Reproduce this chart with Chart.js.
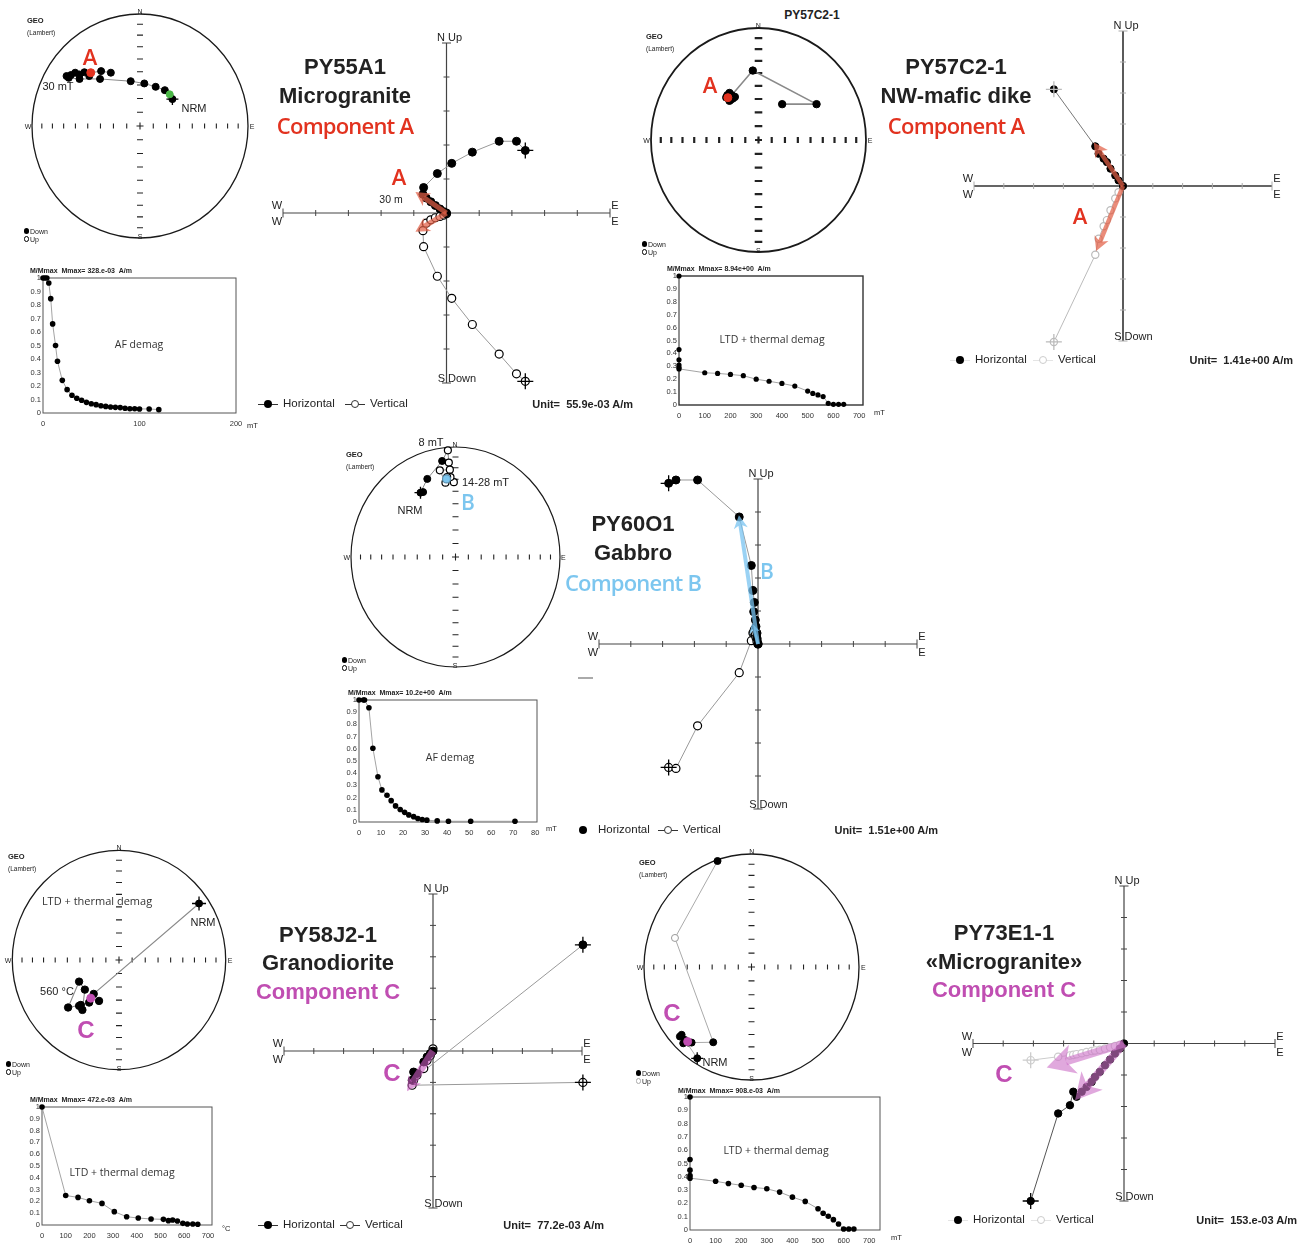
<!DOCTYPE html>
<html><head><meta charset="utf-8"><title>Paleomagnetic demagnetization diagrams</title>
<script src="https://cdn.jsdelivr.net/npm/chart.js@4.4.1/dist/chart.umd.min.js"></script>
<style>
html,body{margin:0;padding:0;background:#fff;}
#root{position:relative;width:1303px;height:1245px;overflow:hidden;font-family:"Liberation Sans",Arial,sans-serif;color:#222;}
#root div{position:absolute;white-space:nowrap;line-height:1;box-sizing:border-box;}
#root canvas{position:absolute;}
</style></head><body><div id="root"></div>
<script>
// ================= DATA =================
// Stereonet (equal-area, Lambert) positions [east, north] on the unit circle
const s1Nrm = [[0.30,0.24]];
const s1Green = [[0.275,0.283]];
const s1Mean = [[-0.456,0.476]];
const s1Down = [[0.23,0.32],[0.145,0.35],[0.04,0.38],[-0.086,0.40],[-0.27,0.476],[-0.36,0.49],[-0.37,0.42],[-0.47,0.446],[-0.515,0.48],[-0.56,0.46],[-0.56,0.42],[-0.60,0.476],[-0.64,0.455],[-0.66,0.43],[-0.68,0.446]];
const s1Path = [[0.30,0.24],[0.275,0.283],[0.23,0.32],[0.145,0.35],[0.04,0.38],[-0.086,0.40],[-0.37,0.42],[-0.56,0.42],[-0.66,0.43]];
const s1Path2 = [[-0.27,0.476],[-0.36,0.49],[-0.456,0.476],[-0.515,0.48],[-0.60,0.476]];

const s2Down = [[0.22,0.32],[0.54,0.32],[-0.053,0.62],[-0.27,0.42],[-0.30,0.38],[-0.24,0.37],[-0.27,0.35],[-0.22,0.385],[-0.25,0.40],[-0.29,0.40],[-0.26,0.36]];
const s2Path = [[0.22,0.32],[0.54,0.32],[-0.053,0.62],[-0.25,0.40]];
const s2Mean = [[-0.285,0.378]];

const s3Nrm = [[-0.335,0.585]];
const s3Down = [[-0.31,0.59],[-0.27,0.71],[-0.128,0.873]];
const s3Up = [[-0.073,0.97],[-0.064,0.858],[-0.054,0.794],[-0.15,0.788],[-0.096,0.676],[-0.016,0.68],[-0.048,0.727],[-0.08,0.727]];
const s3Path = [[-0.335,0.585],[-0.27,0.71],[-0.128,0.873],[-0.073,0.97],[-0.064,0.858],[-0.054,0.794],[-0.15,0.788],[-0.096,0.676],[-0.048,0.727],[-0.016,0.68]];
const s3Mean = [[-0.086,0.71]];

const s4Nrm = [[0.75,0.515]];
const s4Down = [[-0.374,-0.197],[-0.32,-0.27],[-0.477,-0.433],[-0.358,-0.41],[-0.343,-0.455],[-0.374,-0.418],[-0.28,-0.388],[-0.237,-0.309],[-0.187,-0.373]];
const s4Path = [[0.75,0.515],[-0.237,-0.309],[-0.28,-0.388],[-0.358,-0.41],[-0.477,-0.433],[-0.374,-0.197],[-0.32,-0.27],[-0.343,-0.455]];
const s4Mean = [[-0.265,-0.348]];

const s5Nrm = [[-0.505,-0.808]];
const s5Down = [[-0.316,0.938],[-0.356,-0.666],[-0.65,-0.6],[-0.62,-0.645],[-0.588,-0.669],[-0.557,-0.669],[-0.666,-0.615],[-0.635,-0.675]];
const s5Up = [[-0.712,0.257]];
const s5Path = [[-0.505,-0.808],[-0.62,-0.645],[-0.557,-0.669],[-0.356,-0.666],[-0.712,0.257],[-0.316,0.938]];
const s5Mean = [[-0.594,-0.66]];

// Zijderveld diagrams: East component, North component, Up component (axis units = ticks)
const z1E  = [2.41,2.14,1.61,0.79,0.16,-0.28,-0.70,-0.72,-0.62,-0.48,-0.34,-0.20,-0.08,0];
const z1N  = [1.84,2.11,2.11,1.79,1.46,1.16,0.75,0.55,0.44,0.33,0.22,0.12,0.04,0];
const z1Up = [-4.95,-4.73,-4.15,-3.28,-2.51,-1.86,-0.99,-0.52,-0.30,-0.20,-0.14,-0.10,-0.06,-0.02];
const z1ArrowH = [-0.95,0.62], z1ArrowV = [-0.95,-0.55];

const z2E  = [-2.32,-0.93,-0.82,-0.65,-0.54,-0.42,-0.26,-0.15,0];
const z2N  = [3.12,1.28,1.04,0.88,0.77,0.56,0.34,0.18,0];
const z2Up = [-5.03,-2.22,-1.70,-1.30,-1.10,-0.78,-0.40,-0.20,0];
const z2ArrowH = [-0.98,1.40], z2ArrowV = [-0.90,-2.10];

const z3E  = [-2.81,-2.58,-1.90,-0.59,-0.21,-0.16,-0.115,-0.136,-0.084,-0.063,-0.03,-0.03,0];
const z3N  = [4.87,4.97,4.97,3.85,2.38,1.62,1.26,0.98,0.73,0.53,0.33,0.18,0];
const z3Up = [-3.74,-3.77,-2.48,-0.87,0.10,0.33,0.43,0.35,0.28,0.20,0.12,0.06,0];
const z3ArrowH = [-0.60,3.90], z3ArrowV = [-0.19,0.63];

const z4E  = [5.03,-0.70,-0.65,-0.54,-0.31,-0.20,-0.09,0];
const z4N  = [3.38,-0.93,-0.67,-0.72,-0.35,-0.19,-0.08,0];
const z4Up = [-1.00,-1.09,-0.93,-0.77,-0.56,-0.30,-0.14,0.07];
const z4ArrowH = [-0.87,-1.28];

const z5E  = [-3.09,-2.18,-1.79,-1.68,-1.57,-1.40,-1.24,-1.07,-0.96,-0.80,-0.63,-0.46,-0.30,-0.13,0];
const z5N  = [-5.00,-2.22,-1.96,-1.53,-1.69,-1.53,-1.38,-1.22,-1.06,-0.90,-0.69,-0.51,-0.32,-0.16,0];
const z5Up = [-0.53,-0.42,-0.38,-0.36,-0.34,-0.31,-0.27,-0.24,-0.22,-0.20,-0.16,-0.12,-0.08,-0.04,0];
const z5ArrowV = [-2.56,-0.76], z5ArrowH = [-1.62,-1.80];

// Demagnetization curves (step, M/Mmax)
const d1Step = [0,2,4,6,8,10,13,15,20,25,30,35,40,45,50,55,60,65,70,75,80,85,90,95,100,110,120];
const d1M    = [1,1,1,0.963,0.847,0.66,0.50,0.383,0.242,0.173,0.131,0.109,0.094,0.079,0.069,0.062,0.054,0.049,0.044,0.042,0.040,0.035,0.032,0.032,0.030,0.030,0.025];
const d2Step = [0,0,0,0,0,0,100,150,200,250,300,350,400,450,500,520,540,560,580,600,620,640];
const d2M    = [1,0.43,0.35,0.31,0.29,0.28,0.25,0.245,0.237,0.227,0.20,0.184,0.167,0.147,0.108,0.09,0.078,0.065,0.013,0.005,0.005,0.005];
const d3Step = [0,2,2.5,4.5,6.3,8.6,10.4,12.7,14.6,16.6,18.7,20.7,22.6,24.8,26.7,28.7,30.8,35.5,40.6,50.7,70.8];
const d3M    = [1,1,1,0.936,0.605,0.371,0.263,0.219,0.175,0.132,0.102,0.079,0.058,0.044,0.029,0.02,0.015,0.009,0.006,0.006,0.006];
const d4Step = [0,100,152,200,253,305,357,406,460,512,533,551,571,594,613,636,657];
const d4M    = [1,0.25,0.234,0.206,0.183,0.113,0.07,0.059,0.051,0.048,0.037,0.042,0.034,0.014,0.008,0.008,0.006];
const d5Step = [0,0,0,0,0,100,150,200,250,300,350,400,450,500,520,540,560,580,600,620,640];
const d5M    = [1,0.53,0.45,0.41,0.39,0.366,0.35,0.336,0.32,0.31,0.285,0.247,0.215,0.16,0.126,0.103,0.078,0.045,0.008,0.008,0.008];

// Axis decorations
const stereoTicks = [0.123,0.246,0.366,0.484,0.598,0.707,0.811,0.909];
const zTicks = [-5,-4,-3,-2,-1,1,2,3,4,5];
const yTicksDemag = [0,0.1,0.2,0.3,0.4,0.5,0.6,0.7,0.8,0.9,1];

// ================= HELPERS =================
const root = document.getElementById('root');
const RED = '#e2321f', BLUE = '#7cc6ef', MAG = '#c04eb2';
const SANS2 = '"Open Sans","Liberation Sans",sans-serif';

function T(s, x, y, o = {}) {
  const d = document.createElement('div');
  d.textContent = s;
  d.style.left = x + 'px'; d.style.top = y + 'px';
  const a = o.a || 'c';
  d.style.transform = a === 'c' ? 'translate(-50%,-50%)' : a === 'l' ? 'translate(0,-50%)' : 'translate(-100%,-50%)';
  d.style.fontSize = (o.size || 11) + 'px';
  if (o.bold) d.style.fontWeight = o.bold === true ? '700' : o.bold;
  if (o.color) d.style.color = o.color;
  if (o.fam) d.style.fontFamily = o.fam;
  if (o.ls) d.style.letterSpacing = o.ls + 'px';
  if (o.pre) d.style.whiteSpace = 'pre';
  root.appendChild(d);
  return d;
}
function box(x, y, w, h, css) {
  const d = document.createElement('div');
  d.style.left = x + 'px'; d.style.top = y + 'px'; d.style.width = w + 'px'; d.style.height = h + 'px';
  Object.assign(d.style, css); root.appendChild(d); return d;
}
function dot(x, y, r, fill, stroke) {
  return box(x - r, y - r, 2 * r, 2 * r, {borderRadius: '50%', background: fill, border: stroke ? ('1.2px solid ' + stroke) : 'none'});
}
function mkCanvas(left, top, w, h) {
  const c = document.createElement('canvas');
  c.width = w; c.height = h;
  c.style.left = left + 'px'; c.style.top = top + 'px';
  c.style.width = w + 'px'; c.style.height = h + 'px';
  root.appendChild(c);
  return c;
}
const P = a => a.map(p => ({x: p[0], y: p[1]}));
const LINE = (data, color = '#8a8a8a', w = 1, order = 20) => ({data: P(data), showLine: true, borderColor: color, borderWidth: w, pointRadius: 0, order, clip: false});
const DOTS = (data, fill = '#000', r = 3.5, stroke = '#000', bw = 1, order = 5) => ({data: P(data), showLine: false, pointRadius: r, pointHoverRadius: r, backgroundColor: fill, borderColor: stroke, pointBackgroundColor: fill, pointBorderColor: stroke, pointBorderWidth: bw, order, clip: false});
const CROSS = (data, r = 6, color = '#000', order = 4) => ({data: P(data), showLine: false, pointStyle: 'cross', pointRadius: r, pointHoverRadius: r, borderColor: color, pointBorderColor: color, pointBorderWidth: 1.3, order, clip: false});

function baseOpts(pad, lim) {
  return {responsive: false, animation: false, events: [], layout: {padding: pad},
    plugins: {legend: {display: false}, tooltip: {enabled: false}},
    scales: {x: {type: 'linear', min: -lim, max: lim, display: false}, y: {type: 'linear', min: -lim, max: lim, display: false}}};
}

// ---------- Stereonet ----------
function stereoFrame(g) {
  return {id: 'sframe', beforeDatasetsDraw(ch) {
    const {ctx, scales: {x, y}} = ch;
    const cx = x.getPixelForValue(0), cy = y.getPixelForValue(0);
    const rx = x.getPixelForValue(1) - cx, ry = cy - y.getPixelForValue(1);
    const tl = g.tl || 2.6, dl = g.dl || 3;
    ctx.save();
    ctx.strokeStyle = '#1a1a1a'; ctx.lineWidth = g.lw || 1.3;
    ctx.beginPath(); ctx.ellipse(cx, cy, rx, ry, 0, 0, 2 * Math.PI); ctx.stroke();
    ctx.lineWidth = g.tw || 1.1; ctx.strokeStyle = '#222';
    ctx.beginPath();
    stereoTicks.forEach(t => { [-1, 1].forEach(s => {
      const px = x.getPixelForValue(s * t); ctx.moveTo(px, cy - tl); ctx.lineTo(px, cy + tl);
      const py = y.getPixelForValue(s * t); ctx.moveTo(cx - dl, py); ctx.lineTo(cx + dl, py);
    }); });
    ctx.moveTo(cx - 3.5, cy); ctx.lineTo(cx + 3.5, cy); ctx.moveTo(cx, cy - 3.5); ctx.lineTo(cx, cy + 3.5);
    ctx.stroke(); ctx.restore();
  }};
}
function stereo(g, ds) {
  const pad = 8;
  const W = Math.round(2 * g.rx + 2 * pad), H = Math.round(2 * g.ry + 2 * pad);
  const c = mkCanvas(Math.round(g.cx - W / 2), Math.round(g.cy - H / 2), W, H);
  new Chart(c, {type: 'scatter', data: {datasets: ds}, options: baseOpts(pad, 1), plugins: [stereoFrame(g)]});
  // labels
  T('N', g.cx, g.cy - g.ry - 3, {size: 7});
  T('S', g.cx, g.cy + g.ry - 2, {size: 7});
  T('W', g.cx - g.rx - 4, g.cy, {size: 7});
  T('E', g.cx + g.rx + 4, g.cy, {size: 7});
  T('GEO', g.geo[0], g.geo[1], {size: 7.5, bold: true, a: 'l'});
  T('(Lambert)', g.geo[0], g.geo[1] + 12, {size: 6.5, a: 'l'});
  dot(g.leg[0] + 2.5, g.leg[1], 2.6, '#000');
  T('Down', g.leg[0] + 6, g.leg[1], {size: 7, a: 'l'});
  dot(g.leg[0] + 2.5, g.leg[1] + 8, 2.6, '#fff', g.upCol || '#000');
  T('Up', g.leg[0] + 6, g.leg[1] + 8, {size: 7, a: 'l'});
}

// ---------- Zijderveld ----------
function arrow(ctx, x0, y0, x1, y1, color, w, hl, hw) {
  const ang = Math.atan2(y1 - y0, x1 - x0), c = Math.cos(ang), s = Math.sin(ang);
  const bx = x1 - hl * c, by = y1 - hl * s;
  const nx = x1 - hl * 0.72 * c, ny = y1 - hl * 0.72 * s;
  ctx.save();
  ctx.strokeStyle = color; ctx.lineWidth = w; ctx.lineCap = 'butt';
  ctx.beginPath(); ctx.moveTo(x0, y0); ctx.lineTo(nx, ny); ctx.stroke();
  ctx.fillStyle = color; ctx.beginPath();
  ctx.moveTo(x1, y1);
  ctx.lineTo(bx - hw / 2 * s, by + hw / 2 * c);
  ctx.lineTo(nx, ny);
  ctx.lineTo(bx + hw / 2 * s, by - hw / 2 * c);
  ctx.closePath(); ctx.fill();
  ctx.restore();
}
function zPlug(g) {
  return {id: 'zaxes', beforeDatasetsDraw(ch) {
    const {ctx, scales: {x, y}} = ch;
    const x0 = x.getPixelForValue(0), y0 = y.getPixelForValue(0);
    ctx.save();
    ctx.strokeStyle = g.axisColor || '#444'; ctx.lineWidth = g.axisW || 1.2;
    ctx.beginPath();
    ctx.moveTo(x.getPixelForValue(-5), y0); ctx.lineTo(x.getPixelForValue(5), y0);
    ctx.moveTo(x0, y.getPixelForValue(5)); ctx.lineTo(x0, y.getPixelForValue(-5));
    ctx.stroke();
    ctx.strokeStyle = g.tickColor || '#444'; ctx.lineWidth = 1;
    ctx.beginPath();
    zTicks.forEach(v => {
      const L = Math.abs(v) === 5 ? 4.5 : 3;
      const px = x.getPixelForValue(v); ctx.moveTo(px, y0 - L); ctx.lineTo(px, y0 + L);
      const py = y.getPixelForValue(v); ctx.moveTo(x0 - L, py); ctx.lineTo(x0 + L, py);
    });
    ctx.stroke(); ctx.restore();
  }, afterDatasetsDraw(ch) {
    const {ctx, scales: {x, y}} = ch;
    (g.arrows || []).forEach(a => arrow(ctx, x.getPixelForValue(0), y.getPixelForValue(0),
      x.getPixelForValue(a.to[0]), y.getPixelForValue(a.to[1]), a.color, a.w, a.hl, a.hw));
  }};
}
function zijd(g, E, N, U, st) {
  const pad = 14;
  const W = Math.round(10 * g.ux + 2 * pad), H = Math.round(10 * g.uy + 2 * pad);
  const left = Math.round(g.cx - W / 2), top = Math.round(g.cy - H / 2);
  const c = mkCanvas(left, top, W, H);
  const h = E.map((e, i) => [e, N[i]]), v = E.map((e, i) => [e, U[i]]);
  const ds = [
    CROSS([h[0]], 8, st.hc || '#000', 3), CROSS([v[0]], 8, st.vc || '#000', 3),
    DOTS(h, st.hf || '#000', st.r, st.hs || '#000', 1, 6),
    DOTS(v, '#fff', st.r, st.vc || '#000', 1.2, 7),
    LINE(h, st.hl || '#999', 1, 20), LINE(v, st.vl || '#999', 1, 21)
  ];
  new Chart(c, {type: 'scatter', data: {datasets: ds}, options: baseOpts(pad, 5), plugins: [zPlug(g)]});
  const cx = left + W / 2, cy = top + H / 2, xl = cx - 5 * g.ux, xr = cx + 5 * g.ux, yt = cy - 5 * g.uy, yb = cy + 5 * g.uy;
  T('N', cx - 1.5, yt - 6, {size: 11, a: 'r'});
  T('Up', cx + 1.5, yt - 6, {size: 11, a: 'l'});
  T('S', cx - 1.5, yb - 5, {size: 11, a: 'r'});
  T('Down', cx + 1.5, yb - 5, {size: 11, a: 'l'});
  T('W', xl - 6, cy - 8, {size: 11}); T('W', xl - 6, cy + 8, {size: 11});
  T('E', xr + 5, cy - 8, {size: 11}); T('E', xr + 5, cy + 8, {size: 11});
}
function zLegend(y, L) {
  if (L.hLine) box(L.hx - 10, y - 0.5, 20, 1.2, {background: L.hLine});
  dot(L.hx, y, 4, '#000');
  T('Horizontal', L.hx + 15, y, {size: 11.5, a: 'l'});
  if (L.vLine) box(L.vx - 10, y - 0.5, 20, 1.2, {background: L.vLine});
  dot(L.vx, y, 4, '#fff', L.vCol || '#333');
  T('Vertical', L.vx + 15, y, {size: 11.5, a: 'l'});
  T(L.unit, L.ux, y, {size: 11, bold: true, a: 'r', pre: true});
}

// ---------- Demag curves ----------
const frameBox = {id: 'fbox', beforeDatasetsDraw(ch) {
  const {ctx, chartArea: a} = ch;
  ctx.save(); ctx.strokeStyle = ch.options.frameColor || '#555'; ctx.lineWidth = ch.options.frameW || 1;
  ctx.strokeRect(a.left, a.top, a.right - a.left, a.bottom - a.top); ctx.restore();
}};
function demag(g, xs, ys) {
  const padL = 20, padT = 7, padR = 16, padB = 20;
  const l = Math.round(g.l), t = Math.round(g.t), w = Math.round(g.r - g.l), h = Math.round(g.b - g.t);
  const c = mkCanvas(l - padL, t - padT, w + padL + padR, h + padT + padB);
  new Chart(c, {type: 'scatter',
    data: {datasets: [{data: xs.map((x, i) => ({x, y: ys[i]})), showLine: true, borderColor: '#9a9a9a', borderWidth: 0.9,
      pointRadius: g.pr || 2.8, pointBackgroundColor: '#000', pointBorderColor: '#000', pointBorderWidth: 0, clip: false}]},
    options: {responsive: false, animation: false, events: [], frameColor: g.fc, frameW: g.fw,
      layout: {padding: {left: 0, top: padT, right: padR, bottom: 0}},
      plugins: {legend: {display: false}, tooltip: {enabled: false}},
      scales: {
        x: {type: 'linear', min: 0, max: g.xmax, afterFit(s) { s.height = padB; },
          ticks: {stepSize: g.step, includeBounds: false, autoSkip: false, maxRotation: 0, padding: 6, color: '#333', font: {size: 7.5, family: 'Liberation Sans'}},
          grid: {display: false, drawTicks: false}, border: {display: false}},
        y: {type: 'linear', min: 0, max: 1, afterFit(s) { s.width = padL; },
          afterBuildTicks(s) { s.ticks = yTicksDemag.map(v => ({value: v})); },
          ticks: {padding: 2, autoSkip: false, color: '#333', font: {size: 7.5, family: 'Liberation Sans'}, callback: v => String(v)},
          grid: {display: false, drawTicks: false}, border: {display: false}}
      }}, plugins: [frameBox]});
  T(g.title, g.tx, g.ty, {size: 7, bold: true, a: 'l', pre: true});
  T(g.unitLbl, g.ulx, g.uly, {size: 7.5, a: 'l'});
  T(g.label, g.lx, g.ly, {size: 10.5, fam: SANS2, color: '#333'});
}

// ================= PANEL 1 : PY55A1 =================
stereo({cx: 140, cy: 126, rx: 108, ry: 112, geo: [27, 21], leg: [24, 231]}, [
  CROSS(s1Nrm, 6, '#000', 3), DOTS(s1Nrm, '#000', 3.5),
  DOTS(s1Green, '#4cb848', 3.5, '#4cb848', 1, 2), DOTS(s1Mean, RED, 4, RED, 1, 1),
  DOTS(s1Down, '#000', 3.5), LINE(s1Path, '#8a8a8a', 1), LINE(s1Path2, '#8a8a8a', 1)
]);
T('A', 90, 56, {size: 22, bold: '600', color: RED, fam: SANS2});
T('30 mT', 58, 86, {size: 11});
T('NRM', 194, 108, {size: 11});
demag({l: 42.7, t: 278, r: 236, b: 413, xmax: 200, step: 100, title: 'M/Mmax  Mmax= 328.e-03  A/m', tx: 30, ty: 270,
  unitLbl: 'mT', ulx: 247, uly: 426, label: 'AF demag', lx: 139, ly: 344}, d1Step, d1M);
zijd({cx: 446.7, cy: 212.5, ux: 32.7, uy: 34, arrows: [
  {to: z1ArrowH, color: 'rgba(226,95,70,0.72)', w: 5, hl: 14, hw: 15},
  {to: z1ArrowV, color: 'rgba(226,95,70,0.72)', w: 5, hl: 14, hw: 15}]},
  z1E, z1N, z1Up, {r: 4, hl: '#999', vl: '#999'});
T('A', 399, 176, {size: 22, bold: '600', color: RED, fam: SANS2});
T('30 m', 391, 199, {size: 10.5});
zLegend(404, {hx: 268, hLine: '#333', vx: 355, vLine: '#333', unit: 'Unit=  55.9e-03 A/m', ux: 633});
T('PY55A1', 345, 67, {size: 22, bold: true});
T('Microgranite', 345, 96, {size: 22, bold: true});
T('Component A', 345, 125, {size: 22, bold: '600', color: RED, fam: SANS2, ls: -0.8});

// ================= PANEL 2 : PY57C2-1 =================
T('PY57C2-1', 812, 15, {size: 12, bold: true});
stereo({cx: 758.3, cy: 140, rx: 107.7, ry: 112, lw: 1.8, tw: 2.2, tl: 3, dl: 3.8, geo: [646, 37], leg: [642, 244]}, [
  DOTS(s2Mean, RED, 4, RED, 1, 1), DOTS(s2Down, '#000', 3.7), LINE(s2Path, '#8a8a8a', 1.6)
]);
T('A', 710, 84, {size: 22, bold: '600', color: RED, fam: SANS2});
demag({l: 679.3, t: 276, r: 863.3, b: 405, xmax: 715, step: 100, fc: '#333', fw: 1.4, pr: 2.6, title: 'M/Mmax  Mmax= 8.94e+00  A/m', tx: 667, ty: 268,
  unitLbl: 'mT', ulx: 874, uly: 413, label: 'LTD + thermal demag', lx: 772, ly: 339}, d2Step, d2M);
zijd({cx: 1122.7, cy: 185.7, ux: 29.8, uy: 31, axisColor: '#333', axisW: 1.6, tickColor: '#aaa', arrows: [
  {to: z2ArrowH, color: 'rgba(226,95,70,0.72)', w: 4.5, hl: 14, hw: 15},
  {to: z2ArrowV, color: 'rgba(226,95,70,0.72)', w: 4.5, hl: 14, hw: 15}]},
  z2E, z2N, z2Up, {r: 3.6, hl: '#777', vl: '#bbb', vc: '#bbb', hc: '#bbb'});
T('A', 1080, 215, {size: 22, bold: '600', color: RED, fam: SANS2});
zLegend(360, {hx: 960, hLine: '#e4e4e4', vx: 1043, vLine: '#e4e4e4', vCol: '#ccc', unit: 'Unit=  1.41e+00 A/m', ux: 1293});
T('PY57C2-1', 956, 67, {size: 22, bold: true});
T('NW-mafic dike', 956, 96, {size: 22, bold: true});
T('Component A', 956, 125, {size: 22, bold: '600', color: RED, fam: SANS2, ls: -0.8});

// ================= PANEL 3 : PY60O1 =================
stereo({cx: 455, cy: 557, rx: 104.3, ry: 110, lw: 1.2, geo: [346, 455], leg: [342, 660]}, [
  CROSS(s3Nrm, 6, '#000', 3), DOTS(s3Nrm, '#000', 3.5),
  DOTS(s3Mean, BLUE, 4, '#5a8fae', 1.2, 1), DOTS(s3Down, '#000', 3.5),
  DOTS(s3Up, '#fff', 3.5, '#000', 1.2, 6), LINE(s3Path, '#8a8a8a', 1)
]);
T('8 mT', 431, 442, {size: 11});
T('14-28 mT', 462, 482, {size: 11, a: 'l'});
T('B', 468, 502, {size: 21, bold: '600', color: BLUE, fam: SANS2});
T('NRM', 410, 510, {size: 11});
demag({l: 359.3, t: 700, r: 537.3, b: 822, xmax: 80.8, step: 10, title: 'M/Mmax  Mmax= 10.2e+00  A/m', tx: 348, ty: 692,
  unitLbl: 'mT', ulx: 546, uly: 829, label: 'AF demag', lx: 450, ly: 757}, d3Step, d3M);
zijd({cx: 757.7, cy: 644.3, ux: 31.8, uy: 33, arrows: [
  {to: z3ArrowH, color: 'rgba(120,195,240,0.75)', w: 4, hl: 13, hw: 14},
  {to: z3ArrowV, color: 'rgba(120,195,240,0.75)', w: 3, hl: 10, hw: 11}]},
  z3E, z3N, z3Up, {r: 4, hl: '#999', vl: '#999'});
T('B', 767, 571, {size: 21, bold: '600', color: BLUE, fam: SANS2});
box(578, 677, 15, 1.5, {background: '#aaa'});
zLegend(830, {hx: 583, vx: 668, vLine: '#333', unit: 'Unit=  1.51e+00 A/m', ux: 938});
T('PY60O1', 633, 524, {size: 22, bold: true});
T('Gabbro', 633, 553, {size: 22, bold: true});
T('Component B', 633, 582, {size: 22, bold: '600', color: BLUE, fam: SANS2, ls: -0.8});

// ================= PANEL 4 : PY58J2-1 =================
stereo({cx: 119, cy: 960, rx: 107, ry: 110, geo: [8, 857], leg: [6, 1064]}, [
  CROSS(s4Nrm, 7, '#000', 3), DOTS(s4Nrm, '#000', 3.5),
  DOTS(s4Mean, MAG, 4, MAG, 1, 1), DOTS(s4Down, '#000', 3.7), LINE(s4Path, '#8a8a8a', 1.1)
]);
T('LTD + thermal demag', 97, 900, {size: 11, fam: SANS2, color: '#333'});
T('NRM', 203, 922, {size: 11});
T('560 °C', 57, 991, {size: 11});
T('C', 86, 1030, {size: 24, bold: true, color: MAG});
demag({l: 42, t: 1107, r: 212, b: 1225, xmax: 717, step: 100, title: 'M/Mmax  Mmax= 472.e-03  A/m', tx: 30, ty: 1099,
  unitLbl: '°C', ulx: 222, uly: 1229, label: 'LTD + thermal demag', lx: 122, ly: 1172}, d4Step, d4M);
zijd({cx: 432.7, cy: 1050.7, ux: 29.8, uy: 31.4, arrows: [
  {to: z4ArrowH, color: 'rgba(200,90,190,0.62)', w: 7, hl: 14, hw: 15}]},
  z4E, z4N, z4Up, {r: 4, hl: '#999', vl: '#999'});
T('C', 392, 1073, {size: 24, bold: true, color: MAG});
zLegend(1225, {hx: 268, hLine: '#333', vx: 350, vLine: '#333', unit: 'Unit=  77.2e-03 A/m', ux: 604});
T('PY58J2-1', 328, 935, {size: 22, bold: true});
T('Granodiorite', 328, 963, {size: 22, bold: true});
T('Component C', 328, 992, {size: 22, bold: true, color: MAG});

// ================= PANEL 5 : PY73E1-1 =================
stereo({cx: 751.7, cy: 967.3, rx: 107.7, ry: 113, geo: [639, 863], leg: [636, 1073], upCol: '#aaa'}, [
  CROSS(s5Nrm, 6, '#000', 3), DOTS(s5Nrm, '#000', 3.5),
  DOTS(s5Mean, MAG, 4, MAG, 1, 1), DOTS(s5Down, '#000', 3.5),
  DOTS(s5Up, '#fff', 3.5, '#999', 1, 6), LINE(s5Path, '#aaa', 1)
]);
T('C', 672, 1013, {size: 24, bold: true, color: MAG});
T('NRM', 715, 1062, {size: 11});
demag({l: 690, t: 1097, r: 880, b: 1230, xmax: 742, step: 100, title: 'M/Mmax  Mmax= 908.e-03  A/m', tx: 678, ty: 1090,
  unitLbl: 'mT', ulx: 891, uly: 1238, label: 'LTD + thermal demag', lx: 776, ly: 1150}, d5Step, d5M);
zijd({cx: 1124, cy: 1043.3, ux: 30.2, uy: 31.5, arrows: [
  {to: z5ArrowV, color: 'rgba(205,115,200,0.62)', w: 8, hl: 28, hw: 30},
  {to: z5ArrowH, color: 'rgba(205,115,200,0.62)', w: 8, hl: 26, hw: 28}]},
  z5E, z5N, z5Up, {r: 3.7, hl: '#555', vl: '#ccc', vc: '#ccc'});
T('C', 1004, 1074, {size: 24, bold: true, color: MAG});
zLegend(1220, {hx: 958, hLine: '#e4e4e4', vx: 1041, vLine: '#e4e4e4', vCol: '#ccc', unit: 'Unit=  153.e-03 A/m', ux: 1297});
T('PY73E1-1', 1004, 933, {size: 22, bold: true});
T('«Microgranite»', 1004, 962, {size: 22, bold: true});
T('Component C', 1004, 990, {size: 22, bold: true, color: MAG});
</script></body></html>
